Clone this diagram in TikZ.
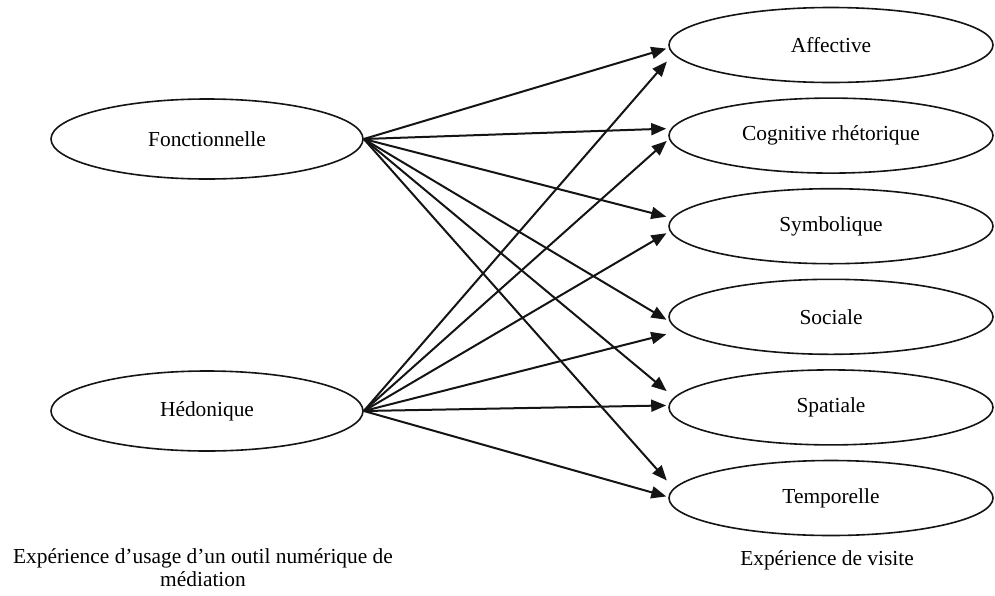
\documentclass[tikz,border=0pt]{standalone}
\usepackage{fontspec}
\setmainfont{Liberation Serif}
\usepackage{tikz}
\usetikzlibrary{shapes.geometric, arrows.meta, positioning}
\definecolor{mydark}{RGB}{20,20,20}
\tikzset{
  oval/.style={ellipse, draw=mydark, fill=white, minimum width=156pt,
    minimum height=40pt, inner sep=0pt, line width=0.8pt,
    font=\fontsize{10.7}{12}\selectfont},
  rightoval/.style={oval, minimum width=162pt, minimum height=37.5pt},
  caption/.style={align=center, font=\fontsize{10.7}{11.5}\selectfont},
  arrow/.style={-{Triangle[length=7.5pt,width=6pt]}, line width=1pt,
    color=mydark, shorten >=1pt}
}
\begin{document}
\begin{tikzpicture}[x=0.5pt, y=-0.5pt]
  \useasboundingbox (0,0) rectangle (995,595);

  % Usage experience
  \node[oval] (fonc) at (207,139) {Fonctionnelle};
  \node[oval] (hedo) at (207,411) {Hédonique};
  \node[caption] (usage) at (203,568) {Expérience d’usage d’un outil numérique de\\médiation};

  % Visit experience
  \node[rightoval] (aff) at (831,45) {Affective};
  \node[rightoval, below=7pt of aff] (cog) {Cognitive rhétorique};
  \node[rightoval, below=7pt of cog] (sym) {Symbolique};
  \node[rightoval, below=7pt of sym] (soc) {Sociale};
  \node[rightoval, below=7pt of soc] (spa) {Spatiale};
  \node[rightoval, below=7pt of spa] (tem) {Temporelle};
  \node[caption] (visite) at (827,560) {Expérience de visite};

  % Connections
  \draw[arrow] (fonc.east) -- ([yshift=-1.5pt]aff.west);
  \draw[arrow] (fonc.east) -- ([yshift=3.5pt]cog.west);
  \draw[arrow] (fonc.east) -- ([yshift=4.5pt]sym.west);
  \draw[arrow] (fonc.east) -- ([yshift=-2pt]soc.west);
  \draw[arrow] (fonc.east) -- ([yshift=7.5pt]spa.west);
  \draw[arrow] (fonc.east) -- ([yshift=8pt]tem.west);
  \draw[arrow] (hedo.east) -- ([yshift=-7.5pt]aff.west);
  \draw[arrow] (hedo.east) -- ([yshift=-2pt]cog.west);
  \draw[arrow] (hedo.east) -- ([yshift=-3pt]sym.west);
  \draw[arrow] (hedo.east) -- ([yshift=-8.5pt]soc.west);
  \draw[arrow] (hedo.east) -- ([yshift=1pt]spa.west);
  \draw[arrow] (hedo.east) -- ([yshift=0.5pt]tem.west);
\end{tikzpicture}
\end{document}
